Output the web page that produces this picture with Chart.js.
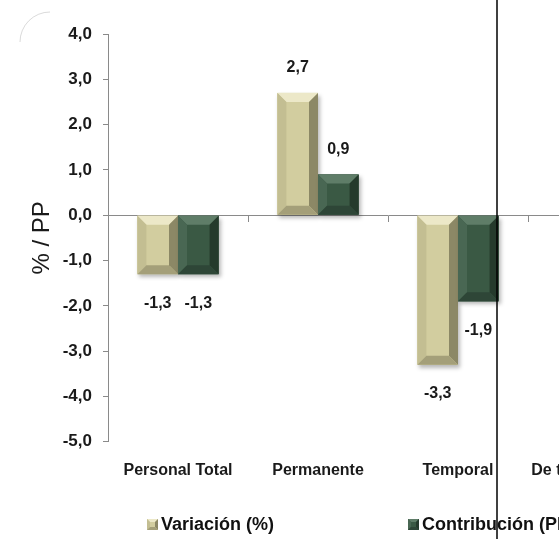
<!DOCTYPE html>
<html>
<head>
<meta charset="utf-8">
<script src="https://cdn.jsdelivr.net/npm/chart.js@4.4.0/dist/chart.umd.min.js"></script>
<style>
  html, body { margin: 0; padding: 0; background: #ffffff; overflow: hidden; }
  #wrap { width: 720px; height: 539px; }
</style>
</head>
<body>
<div id="wrap"><canvas id="chart" width="720" height="539"></canvas></div>
<script>
// Categories and series
const categories = ['Personal Total', 'Permanente', 'Temporal', 'De tiempo parcial'];
const variacion = [-1.3, 2.7, -3.3, null];
const contribucion = [-1.3, 0.9, -1.9, null];
const seriesNames = ['Variación (%)', 'Contribución (PP)'];
const yTicks = { min: -5, max: 4, step: 1 };

const FONT = "'Liberation Sans', Arial, sans-serif";

// Bevel palettes: face, top, left, right, bottom
const palettes = [
  { face: '#d2cd9f', top: '#ece8c8', left: '#c3be92', right: '#8c8866', bottom: '#a49f79' },
  { face: '#3a5944', top: '#5f7d68', left: '#496753', right: '#253a2c', bottom: '#2e4637' }
];

const fmt = v => v.toFixed(1).replace('.', ',');

function bevelRect(ctx, l, t, r, b, p, bv) {
  const w = r - l, h = b - t;
  const d = Math.max(1, Math.min(bv, w / 3, h / 3));
  ctx.fillStyle = p.face; ctx.fillRect(l, t, w, h);
  const poly = (pts, c) => { ctx.fillStyle = c; ctx.beginPath(); ctx.moveTo(pts[0], pts[1]);
    for (let i = 2; i < pts.length; i += 2) ctx.lineTo(pts[i], pts[i + 1]); ctx.closePath(); ctx.fill(); };
  poly([l, t, r, t, r - d, t + d, l + d, t + d], p.top);
  poly([l, t, l + d, t + d, l + d, b - d, l, b], p.left);
  poly([r, t, r, b, r - d, b - d, r - d, t + d], p.right);
  poly([l, b, l + d, b - d, r - d, b - d, r, b], p.bottom);
}

// Beveled bars, value labels, legend and page decorations
const decor = {
  id: 'decor',
  afterDatasetsDraw(chart) {
    const ctx = chart.ctx;
    chart.data.datasets.forEach((ds, di) => {
      const meta = chart.getDatasetMeta(di);
      meta.data.forEach((bar, i) => {
        const v = ds.data[i];
        if (v === null || v === undefined) return;
        const { x, y, base, width } = bar.getProps(['x', 'y', 'base', 'width'], true);
        const l = x - width / 2, r = x + width / 2;
        const t = Math.min(y, base), b = Math.max(y, base);
        ctx.save();
        ctx.shadowColor = 'rgba(0,0,0,0.28)';
        ctx.shadowBlur = 4; ctx.shadowOffsetX = 2; ctx.shadowOffsetY = 3;
        ctx.fillStyle = palettes[di].face;
        ctx.fillRect(l, t, r - l, b - t);
        ctx.restore();
        bevelRect(ctx, l, t, r, b, palettes[di], 9);
        ctx.save();
        ctx.font = "bold 16px " + FONT;
        ctx.fillStyle = '#1a1a1a';
        ctx.textAlign = 'center'; ctx.textBaseline = 'middle';
        const ly = v >= 0 ? y - 25 : y + 29;
        ctx.fillText(fmt(v), x, ly);
        ctx.restore();
      });
    });
  },
  afterDraw(chart) {
    const ctx = chart.ctx;
    // legend
    ctx.save();
    ctx.textBaseline = 'middle';
    const items = [{ bx: 147, tx: 161 }, { bx: 408, tx: 422 }];
    items.forEach((it, i) => {
      bevelRect(ctx, it.bx, 519, it.bx + 11, 530, palettes[i], 3);
      ctx.font = "bold 18px " + FONT;
      ctx.fillStyle = '#111111';
      ctx.fillText(seriesNames[i], it.tx, 525);
    });
    ctx.restore();
    // faint frame corner
    ctx.save();
    ctx.strokeStyle = 'rgba(150,150,150,0.35)';
    ctx.lineWidth = 1;
    ctx.beginPath();
    ctx.arc(50, 42, 30, Math.PI * 1.0, Math.PI * 1.5);
    ctx.stroke();
    ctx.restore();
    // vertical rule
    ctx.save();
    ctx.strokeStyle = '#000000';
    ctx.lineWidth = 1.5;
    ctx.beginPath();
    ctx.moveTo(497, 0); ctx.lineTo(497, 539);
    ctx.stroke();
    ctx.restore();
  }
};

new Chart(document.getElementById('chart'), {
  type: 'bar',
  data: {
    labels: categories,
    datasets: [
      { label: seriesNames[0], data: variacion, backgroundColor: 'rgba(0,0,0,0)', borderWidth: 0 },
      { label: seriesNames[1], data: contribucion, backgroundColor: 'rgba(0,0,0,0)', borderWidth: 0 }
    ]
  },
  options: {
    responsive: false,
    animation: false,
    layout: { padding: { left: 0, top: 34, right: 52, bottom: 40 } },
    datasets: { bar: { categoryPercentage: 0.58, barPercentage: 1.0 } },
    plugins: { legend: { display: false }, tooltip: { enabled: false } },
    scales: {
      x: {
        type: 'category',
        position: { y: 0 },
        offset: true,
        grid: { display: true, drawOnChartArea: false, drawTicks: true, tickLength: 6, offset: true, color: '#8a8a8a' },
        border: { display: true, color: '#8a8a8a', width: 1 },
        ticks: { display: false }
      },
      x2: {
        type: 'category',
        position: 'bottom',
        offset: true,
        grid: { display: false, drawTicks: false },
        border: { display: false },
        ticks: { autoSkip: false, maxRotation: 0, minRotation: 0, padding: 19, color: '#1a1a1a', font: { family: FONT, size: 16, weight: 'bold' } }
      },
      y: {
        min: yTicks.min, max: yTicks.max,
        grid: { display: true, drawOnChartArea: false, drawTicks: true, tickLength: 5, color: '#8a8a8a' },
        border: { display: true, color: '#8a8a8a', width: 1 },
        ticks: { stepSize: yTicks.step, padding: 11, color: '#1a1a1a', font: { family: FONT, size: 17, weight: 'bold' }, callback: v => fmt(v) },
        title: { display: true, text: '% / PP', color: '#1a1a1a', font: { family: FONT, size: 24 }, padding: { top: 28, bottom: 0 } },
        afterFit(s) { s.width = 108; }
      }
    }
  },
  plugins: [decor]
});
</script>
</body>
</html>
